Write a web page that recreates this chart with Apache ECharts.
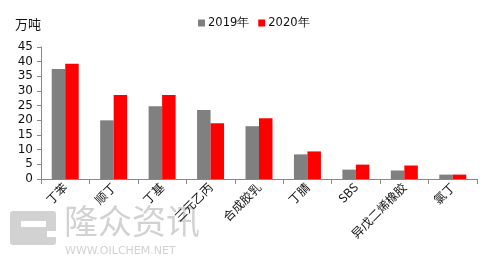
<!DOCTYPE html>
<html><head><meta charset="utf-8">
<script src="https://cdn.jsdelivr.net/npm/echarts@6/dist/echarts.min.js"></script>
<style>html,body{margin:0;padding:0;background:#fff}#c{width:491px;height:265px}</style>
</head><body><div id="c"></div>
<script>
var categories = ['丁苯','顺丁','丁基','三元乙丙','合成胶乳','丁腈','SBS','异戊二烯橡胶','氯丁'];
var series2019 = [37.5, 20.0, 24.8, 23.5, 18.0, 8.4, 3.2, 2.9, 1.5];
var series2020 = [39.3, 28.6, 28.6, 19.0, 20.7, 9.4, 4.9, 4.6, 1.5];
var seriesNames = ['2019年','2020年'];
var unitLabel = '万吨';
var wmColor = '#d2d2d2';
var font = '"Noto Sans CJK SC", "Noto Sans", sans-serif';
var chart = echarts.init(document.getElementById('c'), null, {renderer:'canvas'});
chart.setOption({
  animation:false,
  backgroundColor:'#fff',
  textStyle:{fontFamily:font},
  grid:{left:41,right:14,top:47,bottom:86,containLabel:false},
  legend:{top:12,left:193,itemWidth:7,itemHeight:7,itemGap:9,icon:'rect',
    textStyle:{fontSize:11.5,color:'#111',padding:[0,0,0,-2],fontFamily:'"DejaVu Sans", sans-serif'},data:seriesNames},
  graphic:[
    {type:'text',left:15,top:18,style:{text:unitLabel,fontSize:13,fill:'#111',fontFamily:font}},
    {type:'group',left:10,top:211,z:-1,children:[
      {type:'rect',shape:{x:0,y:0,width:46,height:34,r:3},style:{fill:wmColor}},
      {type:'rect',shape:{x:11,y:10,width:25,height:6},style:{fill:'#fff'}},
      {type:'rect',shape:{x:37,y:20,width:10,height:6},style:{fill:'#fff'}}
    ]},
    {type:'text',left:64,top:204,z:-1,style:{text:'隆众资讯',fontSize:34,fill:wmColor,fontFamily:font}},
    {type:'text',left:65,top:246,z:-1,style:{text:'WWW.OILCHEM.NET',fontSize:11,fill:wmColor,fontFamily:'"DejaVu Sans", sans-serif'}}
  ],
  xAxis:{type:'category',data:categories,
    axisLine:{lineStyle:{color:'#888'}},
    axisTick:{show:true,length:5,alignWithLabel:false,lineStyle:{color:'#888'}},
    axisLabel:{rotate:45,interval:0,fontSize:12,color:'#111',margin:6,fontFamily:font}},
  yAxis:{type:'value',min:0,max:45,interval:5,
    axisLine:{show:true,lineStyle:{color:'#888'}},
    axisTick:{show:true,length:4,inside:false,lineStyle:{color:'#888'}},
    splitLine:{show:false},
    axisLabel:{fontSize:12,color:'#111',margin:8,fontFamily:'"DejaVu Sans", sans-serif'}},
  series:[
    {name:seriesNames[0],type:'bar',data:series2019,barWidth:13.5,barGap:'0%',itemStyle:{color:'#808080'}},
    {name:seriesNames[1],type:'bar',data:series2020,barWidth:13.5,itemStyle:{color:'#ff0000'}}
  ]
});
</script></body></html>
